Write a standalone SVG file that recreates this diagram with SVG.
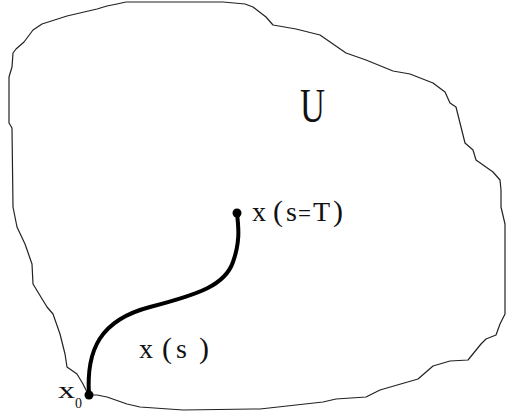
<svg xmlns="http://www.w3.org/2000/svg" width="506" height="417" viewBox="0 0 506 417">
<style>
.region{fill:none;stroke:#222;stroke-width:1.2;stroke-linejoin:round}
.path{fill:none;stroke:#000;stroke-width:4;stroke-linecap:round}
.dot{fill:#000}
.lbl{font-family:"Liberation Serif","Times New Roman",serif;fill:#111}
.par{font-size:30px}
</style>
<rect width="506" height="417" fill="#fff"/>
<g id="region-U">
<path class="region" d="M89,395 L97,395 L107,397 L127,404 L140,407 L183,410 L253,409 L260,409 L323,402 L336,399 L366,397 L380,390 L418,379 L433,366 L450,361 L468,360 L481,344 L486,339 L496,335 L500,324 L505,314 L505,224 L501,207 L501,190 L500,180 L493,172 L476,160 L473,150 L465,143 L456,107 L450,103 L445,92 L433,83 L410,74 L393,71 L366,60 L346,53 L320,35 L296,29 L273,25 L266,17 L253,7 L245,4 L223,2 L126,2 L117,4 L107,6 L97,9 L67,16 L42,24 L33,30 L24,42 L16,49 L13,53 L12,67 L9,77 L9,123 L12,128 L13,207 L17,227 L25,244 L32,264 L33,284 L47,307 L53,314 L60,334 L65,354 L67,367 L77,374 L83,384 L87,392 Z"/>
<text class="lbl" x="300" y="122" font-size="48" textLength="25" lengthAdjust="spacingAndGlyphs">U</text>
</g>
<g id="connectors">
<path class="path" d="M89,395 C86,350 100,320 150,307 S225,285 233,262 S238,225 237,213"/>
</g>
<g id="node-x0">
<circle class="dot" cx="89" cy="395" r="4.5"/>
<text class="lbl" x="58" y="398" font-size="23" textLength="17" lengthAdjust="spacingAndGlyphs">x</text>
<text class="lbl" x="75" y="408" font-size="14">0</text>
</g>
<g id="node-xT">
<circle class="dot" cx="237" cy="213" r="4.5"/>
<text class="lbl" y="221" font-size="28"><tspan x="252">x</tspan><tspan x="273" class="par">(</tspan><tspan x="286">s</tspan><tspan x="298" font-size="23">=</tspan><tspan x="313">T</tspan><tspan x="333" class="par">)</tspan></text>
</g>
<g id="label-xs">
<text class="lbl" y="358" font-size="28"><tspan x="139">x</tspan><tspan x="162" class="par">(</tspan><tspan x="176">s</tspan><tspan x="199" class="par">)</tspan></text>
</g>
</svg>
